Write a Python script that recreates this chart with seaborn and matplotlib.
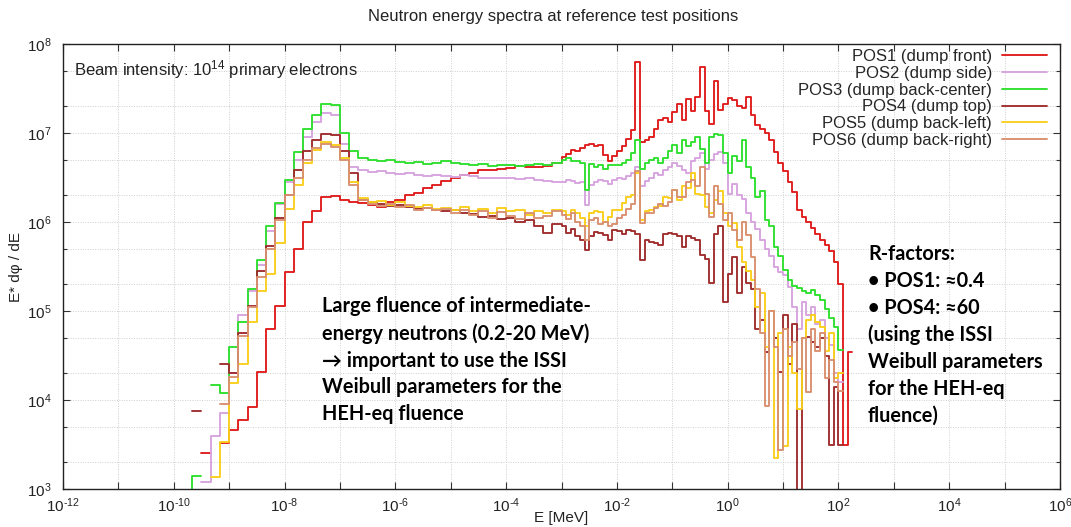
import numpy as np
import pandas as pd
import matplotlib
matplotlib.use("Agg")
import matplotlib.pyplot as plt
from matplotlib.lines import Line2D
from matplotlib.ticker import LogLocator, NullLocator, NullFormatter
import seaborn as sns

nan = np.nan

# Energy grid, log10(E / MeV): 1/6-decade bins below 1 keV, 1/12-decade bins above
edges_thermal = np.linspace(-10.0, -3.0, 43)
edges_fast = np.linspace(-3.0, 2.25, 64)

# log10(E * dphi/dE) per bin; nan = empty bin
pos1_thermal = [nan, nan, nan, 3.40, nan, 3.52, 3.66, 3.78, 3.92, 4.32, 4.80, 5.06, 5.44, 5.70,
                6.00, 6.12, 6.28, 6.29, 6.25, 6.22, 6.21, 6.19, 6.17, 6.22, 6.25, 6.30, 6.33, 6.38,
                6.42, 6.46, 6.50, 6.53, 6.55, 6.58, 6.58, 6.60, 6.61, 6.63, 6.62, 6.62, 6.63, 6.66]
pos1_fast = [6.73, 6.76, 6.81, 6.80, 6.83, 6.86, 6.88, 6.85, 6.86, 6.75, 6.68, 6.74,
             6.80, 6.85, 6.93, 7.03, 7.80, 6.90, 6.92, 6.96, 7.05, 7.15, 7.17, 7.12,
             7.24, 7.33, 7.15, 7.38, 7.25, 7.40, 7.74, 7.25, 7.10, 7.58, 7.26, 7.33,
             7.39, 7.37, 7.30, 7.28, 7.40, 7.20, 7.09, 7.05, 7.00, 6.92, 6.79, 6.66,
             6.57, 6.45, 6.34, 6.13, 6.06, 6.00, 5.93, 5.87, 5.80, 5.74, 5.67, 5.55,
             5.30, 3.49, 4.54]

pos2_thermal = [nan, nan, nan, 3.08, 3.59, 3.85, 4.30, 4.95, 5.22, 5.52, 5.90, 6.20, 6.45, 6.70,
                6.96, 7.12, 7.22, 7.20, 6.88, 6.62, 6.58, 6.56, 6.57, 6.55, 6.54, 6.55, 6.53, 6.52,
                6.53, 6.52, 6.51, 6.53, 6.52, 6.50, 6.50, 6.49, 6.50, 6.48, 6.49, 6.47, 6.46, 6.45]
pos2_fast = [6.45, 6.47, 6.46, 6.44, 6.45, 6.19, 6.42, 6.45, 6.47, 6.46, 6.43, 6.47,
             6.50, 6.48, 6.52, 6.55, 6.62, 6.40, 6.46, 6.50, 6.55, 6.53, 6.58, 6.62,
             6.66, 6.63, 6.58, 6.55, 6.68, 6.72, 6.77, 6.60, 6.70, 6.76, 6.79, 6.66,
             6.32, 6.43, 6.30, 6.26, 6.10, 6.00, 5.92, 5.80, 5.70, 5.62, 5.50, 5.44,
             5.40, 5.27, 5.05, 4.80, 5.10, 4.95, 5.05, 4.85, 4.90, 4.70, 4.62, 4.30,
             4.20, nan, nan]

pos3_thermal = [nan, 2.00, 3.15, nan, 4.17, 4.08, 4.60, 4.88, 5.25, 5.57, 5.95, 6.21, 6.47, 6.79,
                7.04, 7.20, 7.33, 7.31, 7.00, 6.80, 6.72, 6.70, 6.68, 6.70, 6.67, 6.66, 6.67, 6.65,
                6.66, 6.69, 6.66, 6.65, 6.64, 6.65, 6.63, 6.64, 6.64, 6.63, 6.64, 6.65, 6.64, 6.66]
pos3_fast = [6.70, 6.72, 6.68, 6.68, 6.66, 6.36, 6.65, 6.62, 6.64, 6.60, 6.64, 6.64,
             6.64, 6.66, 6.70, 6.77, 6.92, 6.60, 6.66, 6.70, 6.72, 6.66, 6.72, 6.80,
             6.87, 6.78, 6.92, 6.85, 6.90, 6.96, 6.82, 6.66, 6.96, 6.99, 6.98, 6.78,
             6.55, 6.74, 6.68, 6.92, 6.62, 6.50, 6.28, 6.35, 6.02, 5.95, 5.72, 5.62,
             5.46, 5.35, 5.28, 5.26, 5.22, 5.20, 5.24, 5.18, 5.12, 5.02, 4.92, 4.82,
             4.56, nan, nan]

pos4_thermal = [nan, nan, 3.88, nan, nan, 4.40, 4.30, 4.75, 5.06, 5.45, 5.73, 6.05, 6.30, 6.58,
                6.80, 6.92, 6.99, 6.98, 6.80, 6.55, 6.25, 6.22, 6.20, 6.18, 6.19, 6.17, 6.15, 6.16,
                6.13, 6.12, 6.14, 6.10, 6.09, 6.06, 6.07, 6.03, 6.05, 6.00, 6.02, 5.95, 5.88, 5.98]
pos4_fast = [5.95, 5.88, 5.92, 5.84, 5.80, 5.68, 5.84, 5.89, 5.88, 5.85, 5.80, 5.91,
             5.90, 5.87, 5.91, 5.90, 5.86, 5.57, 5.80, 5.78, 5.76, 5.74, 5.87, 5.88,
             5.86, 5.84, 5.72, 5.84, 5.82, 5.80, 5.63, 5.58, 5.31, 5.87, 5.95, 5.10,
             5.42, 5.61, 5.20, 5.50, 5.31, 5.25, 4.80, 4.90, 4.54, 5.00, 4.70, 4.32,
             4.95, 4.40, 4.85, 1.00, 4.70, 4.71, 4.65, 4.60, 4.70, 4.50, 3.49, 4.15,
             3.49, nan, nan]

pos5_thermal = [nan, nan, nan, nan, 3.14, 3.53, 4.19, 4.41, 4.88, 5.22, 5.42, 5.76, 6.15, 6.42,
                6.66, 6.81, 6.90, 6.86, 6.72, 6.45, 6.27, 6.22, 6.24, 6.19, 6.22, 6.18, 6.17, 6.19,
                6.15, 6.16, 6.14, 6.17, 6.12, 6.15, 6.10, 6.16, 6.12, 6.14, 6.08, 6.12, 6.10, 6.14]
pos5_fast = [6.12, 6.08, 6.13, 6.10, 6.05, 5.95, 6.10, 6.12, 6.11, 6.00, 6.06, 6.13,
             6.14, 6.21, 6.28, 6.30, 6.55, 6.02, 6.12, 6.14, 6.17, 6.18, 6.28, 6.27,
             6.36, 6.25, 6.40, 6.38, 6.55, 6.32, 6.30, 6.17, 6.10, 6.25, 6.35, 6.10,
             5.95, 5.99, 5.72, 5.55, 5.45, 5.35, 5.05, 5.20, 4.60, 5.00, 3.35, 4.75,
             3.48, 4.60, 4.30, 3.90, 4.70, 4.90, 4.95, 4.88, 4.82, 4.55, 4.75, 4.25,
             4.30, nan, nan]

pos6_thermal = [nan, nan, nan, nan, nan, 3.95, 4.26, 4.72, 5.05, 5.38, 5.70, 6.02, 6.30, 6.50,
                6.70, 6.83, 6.88, 6.84, 6.70, 6.42, 6.25, 6.20, 6.18, 6.20, 6.17, 6.19, 6.14, 6.16,
                6.13, 6.15, 6.10, 6.14, 6.08, 6.12, 6.05, 6.11, 6.07, 6.03, 6.10, 6.05, 6.07, 6.12]
pos6_fast = [6.08, 6.03, 6.10, 6.00, 5.95, 5.80, 6.02, 6.05, 5.98, 6.00, 5.95, 5.98,
             6.05, 6.08, 6.15, 6.20, 6.57, 5.99, 6.10, 6.10, 6.16, 6.20, 6.18, 6.22,
             6.36, 6.28, 6.28, 6.45, 6.47, 6.40, 6.62, 6.32, 6.06, 6.40, 6.20, 6.02,
             6.10, 5.91, 5.80, 6.00, 5.85, 5.61, 5.25, 4.75, 3.93, 5.00, 4.60, 3.44,
             4.80, 4.50, 4.65, 4.35, 4.70, 4.09, 4.80, 4.55, 4.75, 4.25, 4.45, 4.20,
             4.10, nan, nan]

labels = ["POS1 (dump front)", "POS2 (dump side)", "POS3 (dump back-center)",
          "POS4 (dump top)", "POS5 (dump back-left)", "POS6 (dump back-right)"]
colors = ["#e01b1b", "#d7a3de", "#2fe02f", "#a02c2c", "#f9cf1a", "#d99070"]
series = [pos1_thermal + pos1_fast, pos2_thermal + pos2_fast, pos3_thermal + pos3_fast,
          pos4_thermal + pos4_fast, pos5_thermal + pos5_fast, pos6_thermal + pos6_fast]

edges = 10.0 ** np.concatenate([edges_thermal, edges_fast[1:]])

# Histogram steps: each bin becomes a flat segment, empty bins split the line
rows = []
for name, vals in zip(labels, series):
    seg = 0
    for i, v in enumerate(vals):
        if np.isnan(v):
            seg += 1
            continue
        y = 10.0 ** v
        rows.append((edges[i], y, name, f"{name}#{seg}"))
        rows.append((edges[i + 1], y, name, f"{name}#{seg}"))
df = pd.DataFrame(rows, columns=["E", "flux", "position", "segment"])

sns.set_theme(style="ticks")
plt.rcParams["font.family"] = ["Liberation Sans", "DejaVu Sans"]
plt.rcParams["mathtext.default"] = "regular"

W, H = 1071, 527
fig = plt.figure(figsize=(W / 100, H / 100), dpi=100)
ax = fig.add_axes([63 / W, 1 - 489 / H, (1060 - 63) / W, (489 - 44) / H])

sns.lineplot(data=df, x="E", y="flux", hue="position", hue_order=labels,
             palette=dict(zip(labels, colors)), units="segment", estimator=None,
             sort=False, legend=False, linewidth=1.35, ax=ax)

ax.set_xscale("log")
ax.set_yscale("log")
ax.set_xlim(1e-12, 1e6)
ax.set_ylim(1e3, 1e8)


def power_label(p):
    exp = str(p).replace("-", "\u2010")
    return f"$10^{{{exp}}}$"


xp = list(range(-12, 7))
ax.set_xticks([10.0 ** p for p in xp])
ax.set_xticklabels([power_label(p) if p % 2 == 0 else "" for p in xp])
ax.xaxis.set_minor_locator(NullLocator())
yp = list(range(3, 9))
ax.set_yticks([10.0 ** p for p in yp])
ax.set_yticklabels([power_label(p) for p in yp])
ax.yaxis.set_minor_locator(LogLocator(base=10, subs=(2.0, 5.0)))
ax.yaxis.set_minor_formatter(NullFormatter())

ax.tick_params(which="both", direction="in", top=True, right=True, color="#333333",
               width=0.8, labelsize=11, labelcolor="#222222")
ax.tick_params(which="major", length=5)
ax.tick_params(which="minor", length=3)
ax.tick_params(axis="x", which="major", pad=5)
ax.tick_params(axis="y", which="major", pad=8)

grid_kw = dict(color="#cfcfcf", linestyle=(0, (1, 1.5)), linewidth=0.7)
ax.grid(True, which="major", axis="x", **grid_kw)
ax.grid(True, which="both", axis="y", **grid_kw)
ax.set_axisbelow(True)
for s in ax.spines.values():
    s.set_color("#222222")
    s.set_linewidth(1.0)

ax.set_xlabel("E [MeV]", fontsize=11, color="#222222")
ax.set_ylabel("E* dφ / dE", fontsize=11, color="#222222")
ax.xaxis.set_label_coords(0.5, -0.050)
ax.yaxis.set_label_coords(-0.040, 0.5)

handles = [Line2D([], [], color=c, lw=1.35) for c in colors]
ax.legend(handles, labels, loc="upper right", bbox_to_anchor=(1047 / W, 1 - 49 / H),
          bbox_transform=fig.transFigure, frameon=False, markerfirst=False,
          fontsize=12, handlelength=2.7, handletextpad=0.6, labelspacing=0.11,
          borderpad=0, borderaxespad=0)

fig.text(553 / W, 1 - 17 / H, "Neutron energy spectra at reference test positions",
         fontsize=12, ha="center", va="center", color="#222222")
fig.text(74 / W, 1 - 70 / H, r"Beam intensity: 10$^{14}$ primary electrons",
         fontsize=12, ha="left", va="center", color="#222222")

note_kw = dict(fontsize=14.3, fontweight="bold", family=["Lato", "DejaVu Sans"],
               ha="left", va="top", linespacing=1.43, color="black")
fig.text(322 / W, 1 - 296 / H,
         "Large fluence of intermediate-\nenergy neutrons (0.2-20 MeV)\n"
         "\u2192 important to use the ISSI\nWeibull parameters for the\nHEH-eq fluence",
         **note_kw)
fig.text(868 / W, 1 - 244 / H,
         "R-factors:\n\u2022 POS1: \u22480.4\n\u2022 POS4: \u224860\n(using the ISSI\n"
         "Weibull parameters\nfor the HEH-eq\nfluence)",
         **note_kw)

fig.savefig("out.png", dpi=100)
